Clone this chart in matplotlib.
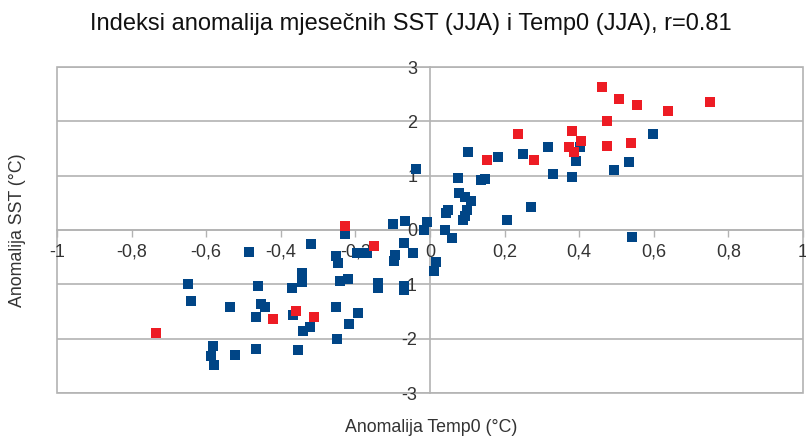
import matplotlib
matplotlib.use('Agg')
import matplotlib.pyplot as plt
from matplotlib.patches import Rectangle

plt.rcParams['font.family'] = ['Liberation Sans', 'DejaVu Sans']
plt.rcParams['axes.unicode_minus'] = False

# anomalies: Temp0 (x) vs SST (y)
blue_x = [-0.650, -0.641, -0.536, -0.461, -0.454, -0.442, -0.466, -0.581, -0.587, -0.578,
          -0.524, -0.466, -0.369, -0.366, -0.353, -0.484, -0.319, -0.228, -0.253, -0.247,
          -0.195, -0.170, -0.094, -0.097, -0.069, -0.045, 0.016, 0.011, -0.342, -0.344,
          -0.240, -0.220, -0.140, -0.140, -0.071, -0.071, -0.252, -0.194, -0.216, -0.322,
          -0.341, -0.250, -0.038, -0.098, -0.067, -0.009, -0.015, 0.040, 0.103,
          0.183, 0.248, 0.317, 0.329, 0.074, 0.137, 0.147, 0.079, 0.094, 0.110,
          0.048, 0.044, 0.098, 0.094, 0.089, 0.271, 0.206, 0.060, 0.402, 0.599,
          0.391, 0.534, 0.492, 0.382, 0.542]
blue_y = [-0.99, -1.31, -1.42, -1.03, -1.37, -1.42, -1.60, -2.14, -2.32, -2.49,
          -2.30, -2.19, -1.07, -1.57, -2.20, -0.41, -0.26, -0.08, -0.48, -0.61,
          -0.43, -0.43, -0.46, -0.565, -0.245, -0.43, -0.595, -0.75, -0.79, -0.95,
          -0.93, -0.90, -0.97, -1.07, -1.03, -1.10, -1.41, -1.52, -1.73, -1.78,
          -1.85, -2.01, 1.12, 0.105, 0.166, 0.15, 0.0, 0.0, 1.44,
          1.35, 1.40, 1.52, 1.03, 0.96, 0.92, 0.94, 0.69, 0.61, 0.53,
          0.37, 0.32, 0.36, 0.26, 0.18, 0.43, 0.18, -0.155, 1.53, 1.76,
          1.27, 1.25, 1.10, 0.976, -0.12]

red_x = [-0.735, -0.420, -0.359, -0.311, -0.228, -0.150, 0.152, 0.280, 0.235, 0.462,
         0.507, 0.554, 0.637, 0.750, 0.474, 0.382, 0.404, 0.373, 0.387, 0.474, 0.539]
red_y = [-1.89, -1.63, -1.49, -1.60, 0.08, -0.295, 1.29, 1.29, 1.77, 2.63,
         2.41, 2.30, 2.19, 2.35, 2.01, 1.83, 1.64, 1.52, 1.44, 1.55, 1.61]

x_ticks = [-1, -0.8, -0.6, -0.4, -0.2, 0, 0.2, 0.4, 0.6, 0.8, 1]
x_labels = ['-1', '-0,8', '-0,6', '-0,4', '-0,2', '0', '0,2', '0,4', '0,6', '0,8', '1']
y_ticks = [-3, -2, -1, 0, 1, 2, 3]

grid_c = '#b3b3b3'

fig = plt.figure(figsize=(8.06, 4.37), dpi=100)
ax = fig.add_axes([57 / 806, 1 - 393 / 437, 746 / 806, 326 / 437])

ax.set_xlim(-1, 1)
ax.set_ylim(-3, 3)

for yv in y_ticks:
    ax.axhline(yv, color=grid_c, lw=1.2, zorder=1)

# outer frame
ax.add_patch(Rectangle((0, 0), 1, 1, transform=ax.transAxes, fill=False,
                       edgecolor=grid_c, lw=1.2, zorder=1, clip_on=False))

for s in ['top', 'right']:
    ax.spines[s].set_visible(False)
for s in ['left', 'bottom']:
    ax.spines[s].set_position(('data', 0))
    ax.spines[s].set_color(grid_c)
    ax.spines[s].set_linewidth(1.2)
    ax.spines[s].set_zorder(1)

ax.scatter(blue_x, blue_y, marker='s', s=58, color='#004586', zorder=3, linewidths=0)
ax.scatter(red_x, red_y, marker='s', s=58, color='#ed1c24', zorder=4, linewidths=0)

ax.set_xticks(x_ticks)
ax.set_xticklabels(x_labels)
ax.set_yticks(y_ticks)
ax.tick_params(axis='x', direction='out', length=5, width=1, color=grid_c,
               pad=5, labelsize=13, labelcolor='#333333')
ax.tick_params(axis='y', length=0, pad=9, labelsize=13, labelcolor='#333333')

fig.text(0.51, 1 - 24 / 437, 'Indeksi anomalija mjesečnih SST (JJA) i Temp0 (JJA), r=0.81',
         ha='center', va='center', fontsize=17, color='#111111')
fig.text(431 / 806, 1 - 428 / 437, 'Anomalija Temp0 (°C)', ha='center', va='center',
         fontsize=12.8, color='#333333')
fig.text(18 / 806, 1 - 230 / 437, 'Anomalija SST (°C)', ha='center', va='center',
         rotation=90, fontsize=12.8, color='#333333')

fig.savefig('out.png', dpi=100)
